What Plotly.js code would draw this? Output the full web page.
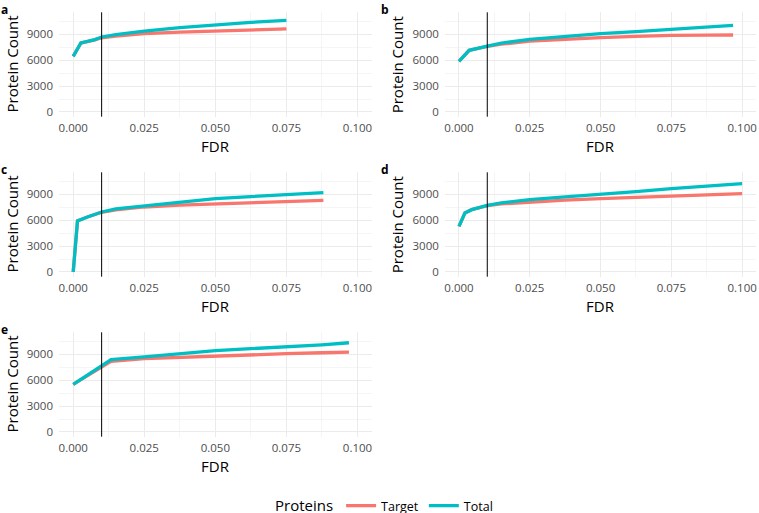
<!DOCTYPE html>
<html>
<head>
<meta charset="utf-8">
<script src="https://cdn.plot.ly/plotly-3.0.1.min.js"></script>
<style>html,body{margin:0;padding:0;background:#fff;}#chart{width:759px;height:513px;}</style>
</head>
<body>
<div id="chart"></div>
<script>
// ---- data ----
const panelLabels = ["a", "b", "c", "d", "e"];
const seriesNames = ["Target", "Total"];
const fdrCutoff = 0.01;

const fdrA    = [0, 0.0027, 0.0076, 0.01, 0.015, 0.025, 0.0375, 0.05, 0.0625, 0.075];
const totalA  = [6450, 7990, 8380, 8690, 8950, 9380, 9770, 10120, 10380, 10620];
const targetA = [6450, 7990, 8350, 8600, 8800, 9080, 9260, 9380, 9520, 9620];

const fdrB    = [0, 0.0036, 0.01, 0.015, 0.025, 0.0375, 0.05, 0.0625, 0.075, 0.0875, 0.0968];
const totalB  = [5870, 7140, 7640, 7980, 8420, 8780, 9080, 9300, 9540, 9800, 10040];
const targetB = [5870, 7140, 7600, 7850, 8220, 8440, 8610, 8750, 8880, 8900, 8920];

const fdrC    = [0, 0.0015, 0.005, 0.01, 0.015, 0.025, 0.0375, 0.05, 0.0625, 0.075, 0.088];
const totalC  = [0, 5906, 6370, 6950, 7300, 7640, 8110, 8490, 8730, 8960, 9190];
const targetC = [0, 5906, 6370, 6920, 7200, 7530, 7750, 7910, 8060, 8180, 8300];

const fdrD    = [0, 0.0021, 0.0045, 0.01, 0.015, 0.025, 0.0375, 0.05, 0.0625, 0.075, 0.0875, 0.1];
const totalD  = [5290, 6830, 7220, 7720, 8000, 8380, 8700, 8960, 9300, 9650, 9950, 10230];
const targetD = [5290, 6830, 7220, 7680, 7880, 8110, 8320, 8490, 8650, 8800, 8950, 9070];

const fdrE    = [0, 0.0133, 0.025, 0.0375, 0.05, 0.0625, 0.075, 0.0875, 0.097];
const totalE  = [5520, 8380, 8690, 9080, 9420, 9650, 9840, 10100, 10340];
const targetE = [5520, 8180, 8490, 8650, 8800, 8950, 9070, 9180, 9260];

const xTickVals = [0, 0.025, 0.05, 0.075, 0.1];
const yTickVals = [0, 3000, 6000, 9000];

// ---- build ----
const panels = [
  {x: fdrA, total: totalA, target: targetA},
  {x: fdrB, total: totalB, target: targetB},
  {x: fdrC, total: totalC, target: targetC},
  {x: fdrD, total: totalD, target: targetD},
  {x: fdrE, total: totalE, target: targetE}
];
const colors = {Target: "#F8766D", Total: "#00BFC4"};
const W = 759, H = 513;
const colPx = [[59, 371.7], [444.8, 756.3]];
const rowPx = [[12.3, 116.7], [172.3, 276.7], [332.3, 436.7]];
const font = "Open Sans, Noto Sans, sans-serif";

const traces = [];
const layout = {
  width: W, height: H,
  margin: {l: 0, r: 0, t: 0, b: 0, autoexpand: false},
  paper_bgcolor: "#fff", plot_bgcolor: "#fff",
  font: {family: font, color: "#000"},
  showlegend: true,
  legend: {
    orientation: "h", x: 273 / W, xanchor: "left", y: 1 - 506 / H, yanchor: "middle",
    title: {text: "Proteins", side: "left", font: {size: 15, color: "#000"}},
    font: {size: 12.5, color: "#000"}, bgcolor: "rgba(0,0,0,0)", itemwidth: 30
  },
  shapes: [], annotations: []
};

panels.forEach((p, i) => {
  const sfx = i === 0 ? "" : String(i + 1);
  const col = i % 2, row = Math.floor(i / 2);
  const [x0, x1] = colPx[col];
  const [y0, y1] = rowPx[row];
  const xa = "x" + sfx, ya = "y" + sfx;
  seriesNames.forEach(name => {
    traces.push({
      type: "scatter", mode: "lines", name: name, legendgroup: name,
      showlegend: i === 0,
      x: p.x, y: name === "Total" ? p.total : p.target,
      xaxis: xa, yaxis: ya,
      line: {color: colors[name], width: 3.3},
      hoverinfo: "skip"
    });
  });
  layout["xaxis" + sfx] = {
    domain: [x0 / W, x1 / W], anchor: ya, range: [-0.005, 0.105],
    tickvals: xTickVals, tickformat: ".3f", ticks: "", ticklabelstandoff: 3,
    tickfont: {size: 11.5, color: "#4D4D4D"},
    showgrid: true, gridcolor: "#EBEBEB", gridwidth: 1, zeroline: false, showline: false,
    minor: {dtick: 0.0125, tick0: 0, showgrid: true, gridcolor: "#EBEBEB", gridwidth: 0.5},
    fixedrange: true
  };
  layout["yaxis" + sfx] = {
    domain: [1 - y1 / H, 1 - y0 / H], anchor: xa, range: [-550, 11550],
    tickvals: yTickVals, tickformat: "d", ticks: "", ticklabelstandoff: 5,
    tickfont: {size: 11.5, color: "#4D4D4D"},
    showgrid: true, gridcolor: "#EBEBEB", gridwidth: 1, zeroline: false, showline: false,
    minor: {dtick: 1500, tick0: 0, showgrid: true, gridcolor: "#EBEBEB", gridwidth: 0.5},
    fixedrange: true
  };
  layout.shapes.push({
    type: "line", xref: xa, yref: ya + " domain", x0: fdrCutoff, x1: fdrCutoff, y0: 0, y1: 1,
    line: {color: "#000", width: 1}, layer: "above"
  });
  // axis titles
  layout.annotations.push({
    text: "FDR", xref: "paper", yref: "paper", x: ((x0 + x1) / 2) / W, y: 1 - (y1 + 29) / H,
    showarrow: false, xanchor: "center", yanchor: "middle", font: {size: 15, color: "#000"}
  });
  layout.annotations.push({
    text: "Protein Count", xref: "paper", yref: "paper", x: (x0 - 48) / W, y: 1 - ((y0 + y1) / 2) / H,
    showarrow: false, xanchor: "center", yanchor: "middle", textangle: -90, font: {size: 15, color: "#000"}
  });
  // panel letter
  layout.annotations.push({
    text: "<b>" + panelLabels[i] + "</b>", xref: "paper", yref: "paper",
    x: (col === 0 ? 0 : 380) / W, y: 1 - (row * 160) / H,
    showarrow: false, xanchor: "left", yanchor: "top", borderpad: 0, font: {size: 12, color: "#000"}
  });
});

Plotly.newPlot("chart", traces, layout, {displayModeBar: false, staticPlot: true});
</script>
</body>
</html>
